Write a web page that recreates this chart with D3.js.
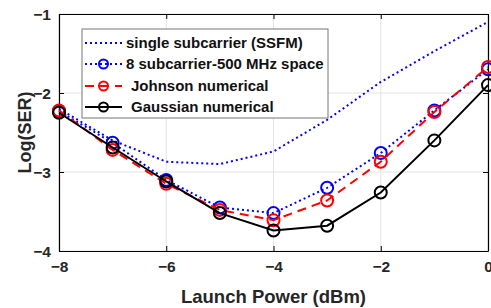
<!DOCTYPE html>
<html><head><meta charset="utf-8">
<script src="https://cdn.jsdelivr.net/npm/d3@7"></script>
<style>body{margin:0;background:#fff}svg{display:block}text{font-family:"Liberation Sans",Arial,sans-serif;font-weight:bold}</style>
</head><body>
<script>
const launchPower = [-8,-7,-6,-5,-4,-3,-2,-1,0];
const singleSSFM = [-2.20,-2.60,-2.87,-2.90,-2.74,-2.34,-1.86,-1.47,-1.10];
const eightSub = [-2.23,-2.63,-3.10,-3.45,-3.52,-3.20,-2.76,-2.22,-1.70];
const johnson = [-2.22,-2.72,-3.15,-3.48,-3.61,-3.36,-2.87,-2.24,-1.67];
const gaussian = [-2.25,-2.69,-3.12,-3.52,-3.74,-3.68,-3.26,-2.60,-1.90];
const xTicks = [-8,-6,-4,-2,0];
const yTicks = [-4,-3,-2,-1];
const legendLabels = ["single subcarrier (SSFM)","8 subcarrier-500 MHz space","Johnson numerical","Gaussian numerical"];

const W=491,H=308, L=59, R=488, T=14, B=251;
const svg=d3.select("body").append("svg").attr("width",W).attr("height",H);
const x=d3.scaleLinear().domain([-8,0]).range([L,R]);
const y=d3.scaleLinear().domain([-4,-1]).range([B,T]);

// grid
svg.append("g").selectAll("line").data(xTicks).join("line")
 .attr("x1",d=>x(d)).attr("x2",d=>x(d)).attr("y1",T).attr("y2",B).attr("stroke","#e3e3e3").attr("stroke-width",1);
svg.append("g").selectAll("line").data(yTicks).join("line")
 .attr("y1",d=>y(d)).attr("y2",d=>y(d)).attr("x1",L).attr("x2",R).attr("stroke","#e3e3e3").attr("stroke-width",1);

// axes
const ax=d3.axisBottom(x).tickValues(xTicks).tickSizeInner(-5).tickSizeOuter(0).tickPadding(14).tickFormat(d3.format("d"));
const gx=svg.append("g").attr("transform",`translate(0,${B})`).call(ax);
const ay=d3.axisLeft(y).tickValues(yTicks).tickSizeInner(-5).tickSizeOuter(0).tickPadding(8).tickFormat(d3.format("d"));
const gy=svg.append("g").attr("transform",`translate(${L},0)`).call(ay);
const axTop=d3.axisTop(x).tickValues(xTicks).tickSizeInner(-5).tickSizeOuter(0).tickFormat("");
svg.append("g").attr("transform",`translate(0,${T})`).call(axTop);
const ayR=d3.axisRight(y).tickValues(yTicks).tickSizeInner(-5).tickSizeOuter(0).tickFormat("");
svg.append("g").attr("transform",`translate(${R},0)`).call(ayR);
svg.selectAll(".domain").attr("stroke","#000").attr("stroke-width",1.2);
svg.selectAll(".tick line").attr("stroke","#000");
svg.selectAll(".tick text").attr("font-size",15.5).attr("fill","#262626").attr("font-family","Liberation Sans, Arial, sans-serif").attr("font-weight","bold");
gx.selectAll(".tick text").attr("dy","0.42em");
gy.selectAll(".tick text").attr("dy","0.35em");

svg.append("text").attr("x",(L+R)/2).attr("y",303).attr("text-anchor","middle").attr("font-size",18.5).attr("fill","#262626").text("Launch Power (dBm)");
svg.append("text").attr("transform",`translate(31,${(T+B)/2}) rotate(-90)`).attr("text-anchor","middle").attr("font-size",18).attr("fill","#262626").text("Log(SER)");

const line=d3.line().x((d,i)=>x(launchPower[i])).y(d=>y(d));
const series=[
 {v:singleSSFM,c:"#0000ff",dash:"2,3",mk:false},
 {v:eightSub,c:"#0000ff",dash:"2,3",mk:true},
 {v:johnson,c:"#ff0000",dash:"9,6",mk:true},
 {v:gaussian,c:"#000000",dash:null,mk:true}
];
series.forEach(s=>{
 svg.append("path").datum(s.v).attr("d",line).attr("fill","none").attr("stroke",s.c).attr("stroke-width",2).attr("stroke-dasharray",s.dash);
 if(s.mk) svg.append("g").selectAll("circle").data(s.v).join("circle")
   .attr("cx",(d,i)=>x(launchPower[i])).attr("cy",d=>y(d)).attr("r",6).attr("fill","none").attr("stroke",s.c).attr("stroke-width",2);
});

// legend
const lg=svg.append("g");
lg.append("rect").attr("x",82).attr("y",29).attr("width",246).attr("height",89).attr("fill","#fff").attr("stroke","#777").attr("stroke-width",1);
const rowsY=[43,64,86,107];
const textX=[126,126,131,131];
series.forEach((s,i)=>{
 lg.append("line").attr("x1",85).attr("x2",122).attr("y1",rowsY[i]).attr("y2",rowsY[i]).attr("stroke",s.c).attr("stroke-width",2).attr("stroke-dasharray",s.dash);
 if(s.mk) lg.append("circle").attr("cx",103.5).attr("cy",rowsY[i]).attr("r",4.5).attr("fill","none").attr("stroke",s.c).attr("stroke-width",2);
 lg.append("text").attr("x",textX[i]).attr("y",rowsY[i]).attr("dy","0.36em").attr("font-size",15).attr("fill","#111").text(legendLabels[i]);
});
</script>
</body></html>
